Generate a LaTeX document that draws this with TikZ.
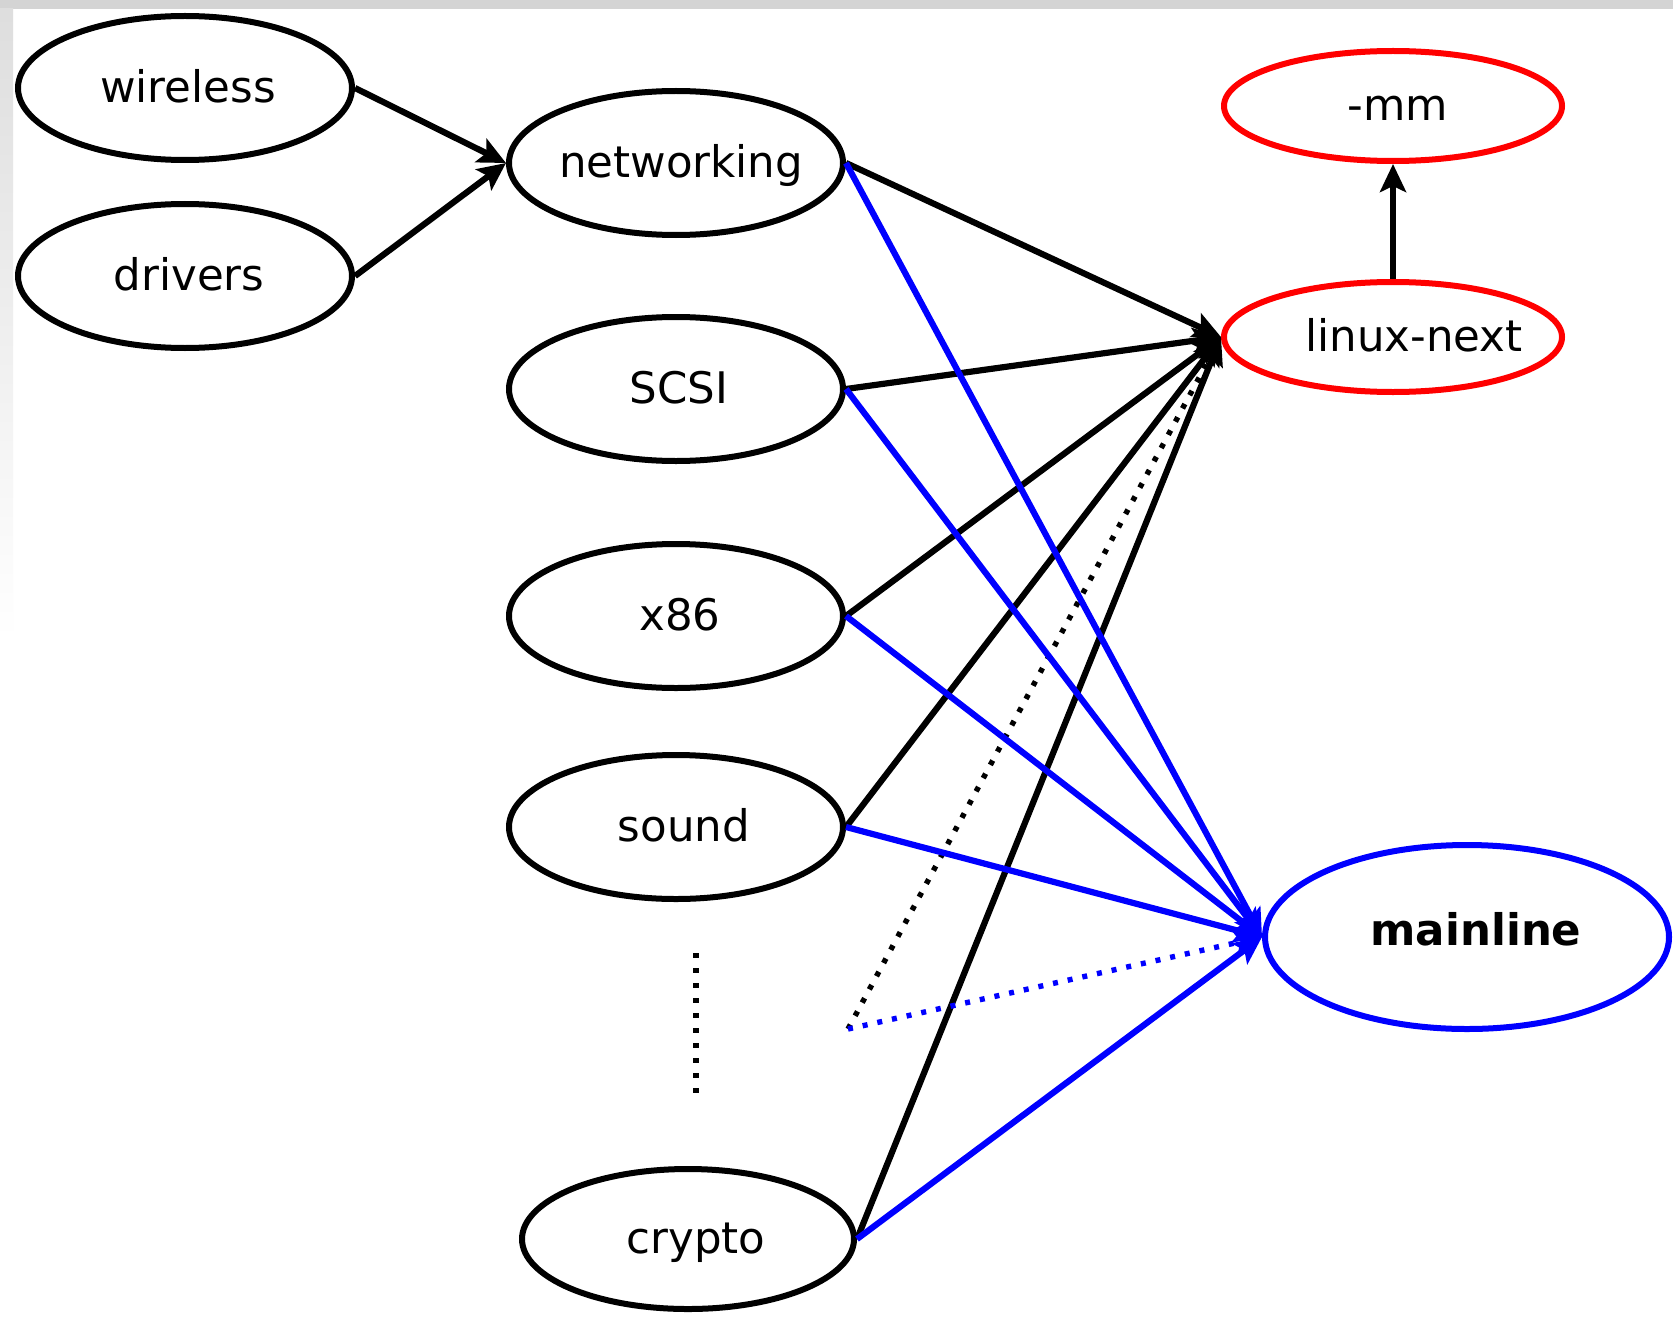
\documentclass[tikz,border=0pt]{standalone}
\usepackage{fontspec}
\setmainfont{DejaVu Sans}
\usetikzlibrary{shapes.geometric,arrows.meta}
\definecolor{pureblue}{RGB}{0,0,255}
\definecolor{purered}{RGB}{255,0,0}
\begin{document}
\begin{tikzpicture}[x=0.5pt,y=-0.5pt,
  ell/.style={ellipse, draw, line width=3pt, inner sep=0pt},
  smallell/.style={ell, minimum width=167pt, minimum height=72pt},
  lbl/.style={font=\fontsize{21.75pt}{26pt}\selectfont, inner sep=0pt, anchor=mid},
  arr/.style={line width=3.1pt, -{Stealth[length=14pt,width=13pt,inset=3pt]}},
  blk/.style={arr, black},
  blu/.style={arr, pureblue},
  dotline/.style={line width=2.7pt, dash pattern=on 2.5pt off 5pt},
]
\useasboundingbox (0,0) rectangle (1673,1316);
\fill[white] (0,0) rectangle (1673,1316);
\fill[black!17] (0,0) rectangle (1673,9);
\shade[top color=black!13, bottom color=white] (0,9) rectangle (13,640);

% ellipses
\node[smallell] (wireless) at (185,88) {};
\node[smallell] (drivers) at (185,276) {};
\node[smallell] (networking) at (676,163) {};
\node[smallell] (scsi) at (676,389) {};
\node[smallell] (x86) at (676,616) {};
\node[smallell] (sound) at (676,827) {};
\node[ell, minimum width=166pt, minimum height=70pt] (crypto) at (688,1239) {};
\node[ell, draw=purered, minimum width=169pt, minimum height=55pt] (mm) at (1393,106) {};
\node[ell, draw=purered, minimum width=169pt, minimum height=55pt] (next) at (1393,337) {};
\node[ell, draw=pureblue, minimum width=202pt, minimum height=92pt] (mainline) at (1467,937) {};

% labels
\node[lbl] (twireless) at (188,97) {wireless};
\node[lbl] (tdrivers) at (189,285) {drivers};
\node[lbl] (tnetworking) at (681,172) {networking};
\node[lbl] (tscsi) at (679,398) {SCSI};
\node[lbl] (tx86) at (680,625) {x86};
\node[lbl] (tsound) at (684,836) {sound};
\node[lbl] (tcrypto) at (696,1248) {crypto};
\node[lbl] (tmm) at (1398,115) {-mm};
\node[lbl] (tnext) at (1414,346) {linux-next};
\node[lbl, font=\fontsize{21.75pt}{26pt}\selectfont\bfseries] (tmainline) at (1476,940) {mainline};

% dotted placeholder
\coordinate (vtop) at (696,953);
\coordinate (vbot) at (696,1099);
\draw[dotline] (vtop) -- (vbot);
\coordinate (more) at (848,1029);

% edges
\draw[blk] (wireless.east) -- (networking.west);
\draw[blk] (drivers.east) -- (networking.west);

\draw[blk] (networking.east) -- (next.west);
\draw[blk] (scsi.east) -- (next.west);
\draw[blk] (x86.east) -- (next.west);
\draw[blk] (sound.east) -- (next.west);
\draw[blk] (crypto.east) -- (next.west);
\draw[blk, dotline] (more) -- (next.west);

\draw[blu] (networking.east) -- (mainline.west);
\draw[blu] (scsi.east) -- (mainline.west);
\draw[blu] (x86.east) -- (mainline.west);
\draw[blu] (sound.east) -- (mainline.west);
\draw[blu] (crypto.east) -- (mainline.west);
\draw[blu, dotline] (more) -- (mainline.west);

\draw[blk] (next.north) -- (mm.south);
\end{tikzpicture}
\end{document}
